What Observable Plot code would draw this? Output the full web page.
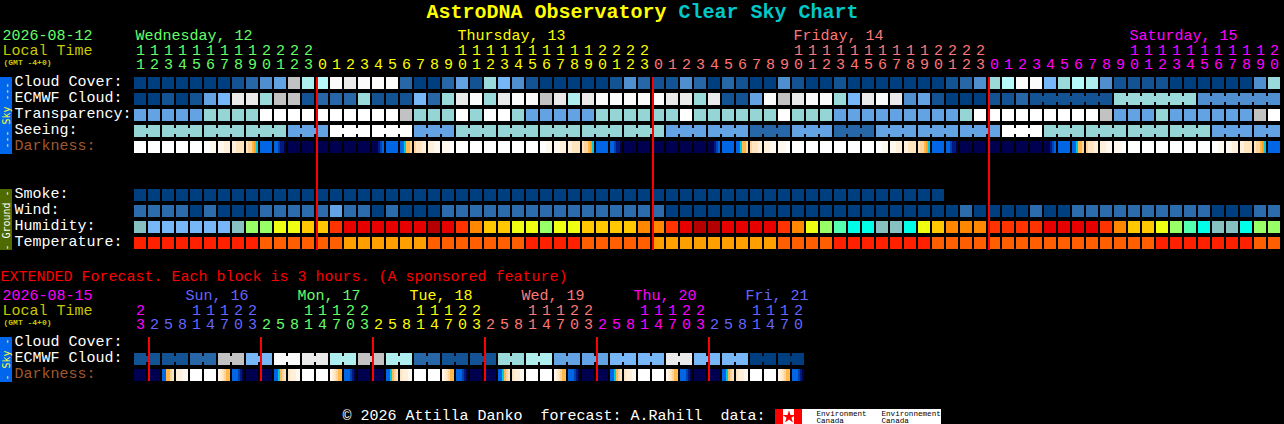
<!DOCTYPE html>
<html>
<head>
<meta charset="utf-8">
<style>html,body{margin:0;padding:0;background:#000;overflow:hidden}svg{display:block}</style>
<script src="https://cdn.jsdelivr.net/npm/d3@7"></script>
<script src="https://cdn.jsdelivr.net/npm/@observablehq/plot@0.6"></script>
</head>
<body>
<script>
// ---------- data ----------
const hours = [11,12,13,14,15,16,17,18,19,20,21,22,23,
  0,1,2,3,4,5,6,7,8,9,10,11,12,13,14,15,16,17,18,19,20,21,22,23,
  0,1,2,3,4,5,6,7,8,9,10,11,12,13,14,15,16,17,18,19,20,21,22,23,
  0,1,2,3,4,5,6,7,8,9,10,11,12,13,14,15,16,17,18,19,20];
const extHours = [23,
  2,5,8,11,14,17,20,23, 2,5,8,11,14,17,20,23, 2,5,8,11,14,17,20,23,
  2,5,8,11,14,17,20,23, 2,5,8,11,14,17,20,23, 2,5,8,11,14,17,20];
const dayLabels = ["Wednesday, 12","Thursday, 13","Friday, 14","Saturday, 15"];
const dayLabelCols = [0,23,47,71];
const dayFirstCols = [0,13,37,61];
const dayColors = ["tGreen","tYellow","tSalmon","tMagenta"];
const extDayLabels = ["Sun, 16","Mon, 17","Tue, 18","Wed, 19","Thu, 20","Fri, 21"];
const extDayLabelCols = [4,12,20,28,36,44];
const extFirstCols = [0,1,9,17,25,33,41];
const extColors = ["tMagenta","tBlue","tGreen","tYellow","tSalmon","tMagenta","tBlue"];
const midnightCols = [13,37,61];
const extMidnightCols = [1,9,17,25,33,41];

const cloudCover = [0,0,0,0,0,0,0,10,20,30,40,80,70,75,100,90,100,100,100,20,0,
  0,20,40,10,60,50,30,10,0,0,0,0,0,10,30,20,10,10,30,20,0,20,10,0,0,30,10,0,0,10,0,
  0,0,0,0,0,0,10,20,30,60,75,100,100,50,60,75,70,30,10,10,10,10,0,0,0,0,0,0,30,60];
const ecmwf = [0,0,10,0,10,40,50,90,90,60,80,80,10,20,20,20,60,10,10,10,50,
  20,60,90,100,60,90,100,100,80,90,70,90,100,100,100,100,100,90,90,60,90,10,10,40,100,80,90,100,100,60,50,
  90,100,90,30,40,10,0,0,0,10,10,20,10,10,10,10,10,10,60,60,60,60,60,60,30,30,30,30,30,30];
const ecmwfBlocks = [[64,69],[70,75],[76,81]];
const transparency = [1,1,1,1,1,2,2,2,2,3,3,3,3,3,3,3,3,3,3,4,2,
  2,2,3,2,3,3,2,1,1,1,1,1,2,2,2,2,2,2,3,2,2,2,2,2,2,3,2,2,2,1,1,
  1,1,1,1,1,1,1,2,3,3,3,3,3,3,3,3,3,4,1,1,1,2,1,1,1,1,1,1,4,3];
const seeing = [2,2,2,2,2,2,2,2,2,2,2,1,1,1,3,3,3,3,3,3,1,1,1,
  2,2,2,2,2,2,2,2,2,2,2,2,2,2,2,1,1,1,1,1,1,0,0,0,1,1,1,0,0,0,
  1,1,1,1,1,1,1,1,1,3,3,3,2,2,2,2,2,2,2,2,2,2,2,2,1,1,1,1,1];
const seeingBlocks = [[0,1],[2,4],[5,7],[8,10],[11,13],[14,16],[17,19],[20,22],[23,25],[26,28],[29,31],[32,34],[35,37],
  [38,40],[41,43],[44,46],[47,49],[50,52],[53,55],[56,58],[59,61],[62,64],[65,67],[68,70],[71,73],[74,76],[77,79],[80,81]];
const darkness = ["000000","000000","000000","000000","000000","000111","111222","223333","344567","888888","889aab",
  "bbbbbb","bbbbbb","bbbbbb","bbbbbb","bbbbbb","bbbbbb","bbba98","888888","887554","433322","222111","111100","000000",
  "000000","000000","000000","000000","000000","000111","111222","223333","344567","888888","889aab",
  "bbbbbb","bbbbbb","bbbbbb","bbbbbb","bbbbbb","bbbbbb","bbba98","888888","887554","433322","222111","111100","000000",
  "000000","000000","000000","000000","000000","000111","111222","223333","344567","888888","889aab",
  "bbbbbb","bbbbbb","bbbbbb","bbbbbb","bbbbbb","bbbbbb","bbba98","888888","887554","433322","222111","111100","000000",
  "000000","000000","000000","000000","000000","000111","111222","223333","344567","888888"];
const smoke = [0,0,0,0,0,0,0,0,0,0,0,0,0,0,0,0,0,0,0,0,0,0,0,0,0,0,0,0,0,0,0,0,0,0,0,0,0,0,0,0,0,0,0,0,0,0,0,0,0,0,0,0,0,0,0,0,0,0];
const wind = [1,1,1,1,0,1,0,0,0,1,1,1,1,1,2,1,1,0,1,0,0,
  0,1,1,1,1,1,1,1,1,1,1,1,1,1,1,1,1,0,0,0,0,0,0,0,0,0,0,0,0,0,0,
  0,0,0,0,0,0,0,1,0,0,0,0,1,0,0,1,1,1,1,1,1,1,1,1,1,0,0,0,1,1];
const humidity = [1,0,0,0,0,0,0,1,4,4,5,5,6,6,8,9,9,9,9,9,9,
  10,9,8,7,6,6,5,5,4,5,5,6,6,6,6,7,7,8,9,10,10,9,9,9,9,8,7,5,4,3,2,
  2,1,1,2,5,6,7,7,7,8,8,8,8,9,9,9,9,8,7,6,6,5,4,3,2,1,1,2,4,4];
const temperature = [0,0,0,0,0,0,0,0,0,1,1,1,1,1,1,2,2,2,2,2,2,
  1,1,1,1,1,1,1,0,0,0,0,1,1,1,1,1,2,2,2,2,2,2,2,2,2,1,1,1,1,0,0,
  0,0,0,0,0,1,1,1,1,1,1,1,1,1,1,1,1,1,1,1,1,0,0,0,0,0,0,0,1,1];

const extEcmwf = [10,10,10,10,20,20,80,80,50,50,100,100,90,90,70,70,80,80,70,70,20,20,10,10,
  10,10,60,60,70,70,40,40,40,40,50,50,50,50,90,90,50,50,50,50,0,0,0,0];
const extDarkness = ["bbbbbb","bbbbbb","885543","222111","000000","000000","123455","8889ab",
  "bbbbbb","bbbbbb","887543","322211","000000","000000","123455","8889ab",
  "bbbbbb","bbbbbb","887543","322211","000000","000000","123455","8889ab",
  "bbbbbb","bbbbbb","887543","322211","000000","000000","123455","8889ab",
  "bbbbbb","bbbbbb","887543","322211","000000","000000","123455","8889ab",
  "bbbbbb","bbbbbb","887543","322211","000000","000000","123455","8889ab"];

const rowLabels = ["Cloud Cover:","ECMWF Cloud:","Transparency:","Seeing:","Darkness:"];
const groundLabels = ["Smoke:","Wind:","Humidity:","Temperature:"];
const extLabels = ["Cloud Cover:","ECMWF Cloud:","Darkness:"];

// ---------- colours ----------
const palette = {
  c0:"#003f7f",c10:"#135393",c20:"#2767a7",c30:"#4f8fcf",c40:"#63a3e3",c50:"#77b7f7",c60:"#9adada",
  c70:"#aeeeee",c75:"#b6fafa",c80:"#c2c2c2",c90:"#eaeaea",c100:"#fbfbfb",
  t1:"#63a3e3",t2:"#95d5d5",t3:"#ffffff",t4:"#c2c2c2",
  s0:"#2767a7",s1:"#63a3e3",s2:"#95d5d5",s3:"#ffffff",
  w0:"#003f7f",w1:"#2c6cac",w2:"#63a3e3",
  h0:"#77b7f7",h1:"#86c0c0",h2:"#00ffe8",h3:"#55ffb0",h4:"#99ff66",h5:"#eeff11",h6:"#ffc800",h7:"#ff8800",h8:"#ff3300",h9:"#e60000",h10:"#b40000",
  f0:"#ff2000",f1:"#ff5f00",f2:"#ffa000",
  d0:"#ffffff",d1:"#fff8ee",d2:"#fff0dc",d3:"#ffe4c0",d4:"#ffd49c",d5:"#ffb84c",d6:"#ff9f20",d7:"#00c8e0",d8:"#0066e6",d9:"#0040b0",da:"#001a80",db:"#000050",
  tGreen:"#66ff66",tYellow:"#ffff00",tSalmon:"#ff7777",tMagenta:"#ff00ff",tBlue:"#6666ff",
  tWhite:"#ffffff",tDimYellow:"#c8c800",tBrown:"#a0582c",tRed:"#ff0000",
  skyBar:"#0066ee",groundBar:"#4f6b00",dashYellow:"#ffff33"
};

// ---------- layout helpers: pixel position -> scale units ----------
const colOf = px => (px - 134) / 14;
const rowOf = py => (py - 77) / 16;
const mono = "'Liberation Mono','DejaVu Sans Mono',monospace";

const cells = [], bridges = [], slices = [];
const addRow = (values, row, prefix) => values.forEach((v, col) => cells.push({col, row, key: prefix + v}));
const addBlocks = (blocks, values, row, prefix) => blocks.forEach(([a, b]) => {
  for (let col = a; col < b; col++) bridges.push({col, row, key: prefix + values[col]});
});
const addDark = (values, row) => values.forEach((s, col) => [...s].forEach((c, i) =>
  slices.push({x1: col + i / 7, x2: col + (i + 1) / 7, row, key: "d" + c})));

addRow(cloudCover, 0, "c");
addRow(ecmwf, 1, "c");      addBlocks(ecmwfBlocks, ecmwf, 1, "c");
addRow(transparency, 2, "t");
addRow(seeing, 3, "s");     addBlocks(seeingBlocks, seeing, 3, "s");
addDark(darkness, 4);
addRow(smoke, 7, "c");
addRow(wind, 8, "w");
addRow(humidity, 9, "h");
addRow(temperature, 10, "f");
const extEcmwfRow = rowOf(353), extDarkRow = rowOf(369);
addRow(extEcmwf, extEcmwfRow, "c");
addBlocks(extEcmwf.map((_, i) => [i, i + 1]).filter(([a]) => a % 2 === 0), extEcmwf, extEcmwfRow, "c");
addDark(extDarkness, extDarkRow);

// ---------- text ----------
const digits = (hs, firsts, colors, yTens, yUnits) => {
  const out = [];
  hs.forEach((h, col) => {
    let k = 0; firsts.forEach((f, i) => { if (col >= f) k = i; });
    if (h >= 10) out.push({x: col, y: rowOf(yTens), text: String(Math.floor(h / 10)), key: colors[k]});
    out.push({x: col, y: rowOf(yUnits), text: String(h % 10), key: colors[k]});
  });
  return out;
};
const headDigits = [...digits(hours, dayFirstCols, dayColors, 49.5, 64),
                    ...digits(extHours, extFirstCols, extColors, 309.5, 324)];
const textStart = [
  ...dayLabels.map((text, i) => ({x: dayLabelCols[i] + 1 / 14, y: rowOf(34.5), text, key: dayColors[i]})),
  ...extDayLabels.map((text, i) => ({x: extDayLabelCols[i] - 5 / 14, y: rowOf(294.5), text, key: extColors[i + 1]})),
  {x: colOf(2), y: rowOf(34.5), text: "2026-08-12", key: "tGreen"},
  {x: colOf(2), y: rowOf(49.5), text: "Local Time", key: "tDimYellow"},
  {x: colOf(2), y: rowOf(294.5), text: "2026-08-15", key: "tMagenta"},
  {x: colOf(2), y: rowOf(309.5), text: "Local Time", key: "tDimYellow"},
  {x: colOf(0), y: rowOf(275.5), text: "EXTENDED Forecast. Each block is 3 hours. (A sponsored feature)", key: "tRed"},
  {x: colOf(342), y: rowOf(415), text: "© 2026 Attilla Danko  forecast: A.Rahill  data:", key: "tWhite"},
  ...rowLabels.map((text, i) => ({x: colOf(14), y: i + 0.25, text, key: i === 4 ? "tBrown" : "tWhite"})),
  ...groundLabels.map((text, i) => ({x: colOf(14), y: 7 + i + 0.25, text, key: "tWhite"})),
  ...extLabels.map((text, i) => ({x: colOf(14), y: rowOf(340.5 + 16 * i), text, key: i === 2 ? "tBrown" : "tWhite"}))
];
const gmtText = [
  {x: colOf(3), y: rowOf(61.5), text: "(GMT -4+0)", key: "tDimYellow"},
  {x: colOf(3), y: rowOf(321.5), text: "(GMT -4+0)", key: "tDimYellow"}
];
const logoText = [
  {x: colOf(816), y: rowOf(413), text: "Environment"},
  {x: colOf(816), y: rowOf(420), text: "Canada"},
  {x: colOf(881), y: rowOf(413), text: "Environnement"},
  {x: colOf(881), y: rowOf(420), text: "Canada"}
];
const bars = [
  {x1: colOf(0), x2: colOf(12), y1: rowOf(77), y2: rowOf(154), key: "skyBar"},
  {x1: colOf(0), x2: colOf(12), y1: rowOf(189), y2: rowOf(250), key: "groundBar"},
  {x1: colOf(0), x2: colOf(12), y1: rowOf(337), y2: rowOf(382), key: "skyBar"},
  {x1: colOf(775), x2: colOf(941), y1: rowOf(409), y2: rowOf(424), key: "tWhite"},
  {x1: colOf(775), x2: colOf(783), y1: rowOf(409), y2: rowOf(424), key: "tRed"},
  {x1: colOf(794), x2: colOf(802), y1: rowOf(409), y2: rowOf(424), key: "tRed"}
];
const barText = [
  {x: colOf(6), y: rowOf(115), text: "--- Sky ---", key: "dashYellow"},
  {x: colOf(6), y: rowOf(220), text: "- Ground -", key: "tWhite"},
  {x: colOf(6), y: rowOf(359), text: "- Sky -", key: "dashYellow"}
];

const common = {fontFamily: mono, lineAnchor: "middle"};
document.body.appendChild(Plot.plot({
  width: 1284, height: 424, margin: 0,
  x: {type: "linear", domain: [0, 82], range: [134, 1282], axis: null},
  y: {type: "linear", domain: [0, 25], range: [77, 477], axis: null},
  color: {type: "ordinal", domain: Object.keys(palette), range: Object.values(palette)},
  style: {background: "#000", fontFamily: mono},
  marks: [
    Plot.rect(bars, {x1: "x1", x2: "x2", y1: "y1", y2: "y2", fill: "key", shapeRendering: "crispEdges"}),
    Plot.rect(cells, {x1: "col", x2: d => d.col + 1, y1: "row", y2: d => d.row + 1, fill: "key", insetRight: 2, insetBottom: 4, shapeRendering: "crispEdges"}),
    Plot.rect(bridges, {x1: "col", x2: d => d.col + 1, y1: "row", y2: d => d.row + 1, fill: "key", insetLeft: 12, insetTop: 3, insetBottom: 7, shapeRendering: "crispEdges"}),
    Plot.rect(slices, {x1: "x1", x2: "x2", y1: "row", y2: d => d.row + 1, fill: "key", insetBottom: 4, shapeRendering: "crispEdges"}),
    Plot.ruleX(midnightCols, {x: d => d, y1: 0, y2: rowOf(250), stroke: "#ff0000", strokeWidth: 2, shapeRendering: "crispEdges"}),
    Plot.ruleX(extMidnightCols, {x: d => d, y1: rowOf(337), y2: rowOf(381), stroke: "#ff0000", strokeWidth: 2, shapeRendering: "crispEdges"}),
    Plot.text(headDigits, {...common, x: "x", y: "y", text: "text", fill: "key", dx: 6, fontSize: 15, textAnchor: "middle"}),
    Plot.text(textStart, {...common, x: "x", y: "y", text: "text", fill: "key", fontSize: 15, textAnchor: "start"}),
    Plot.text(gmtText, {...common, x: "x", y: "y", text: "text", fill: "key", fontSize: 8, fontWeight: "bold", textAnchor: "start"}),
    Plot.text(barText, {...common, fontFamily: "'DejaVu Sans Mono',monospace", x: "x", y: "y", text: "text", fill: "key", fontSize: 10, rotate: -90, textAnchor: "middle"}),
    Plot.text(logoText, {...common, x: "x", y: "y", text: "text", fill: "#000", fontSize: 7.6, textAnchor: "start"}),
    Plot.dot([{x: colOf(788.5), y: rowOf(416.5)}], {x: "x", y: "y", r: 4, symbol: "star", fill: "#ff0000"}),
    Plot.text(["AstroDNA Observatory"], {...common, x: colOf(426), y: rowOf(11.5), text: d => d, fill: "#ffff00", fontSize: 20, fontWeight: "bold", textAnchor: "start"}),
    Plot.text(["Clear Sky Chart"], {...common, x: colOf(678), y: rowOf(11.5), text: d => d, fill: "#00c8c8", fontSize: 20, fontWeight: "bold", textAnchor: "start"})
  ]
}));
</script>
</body>
</html>
